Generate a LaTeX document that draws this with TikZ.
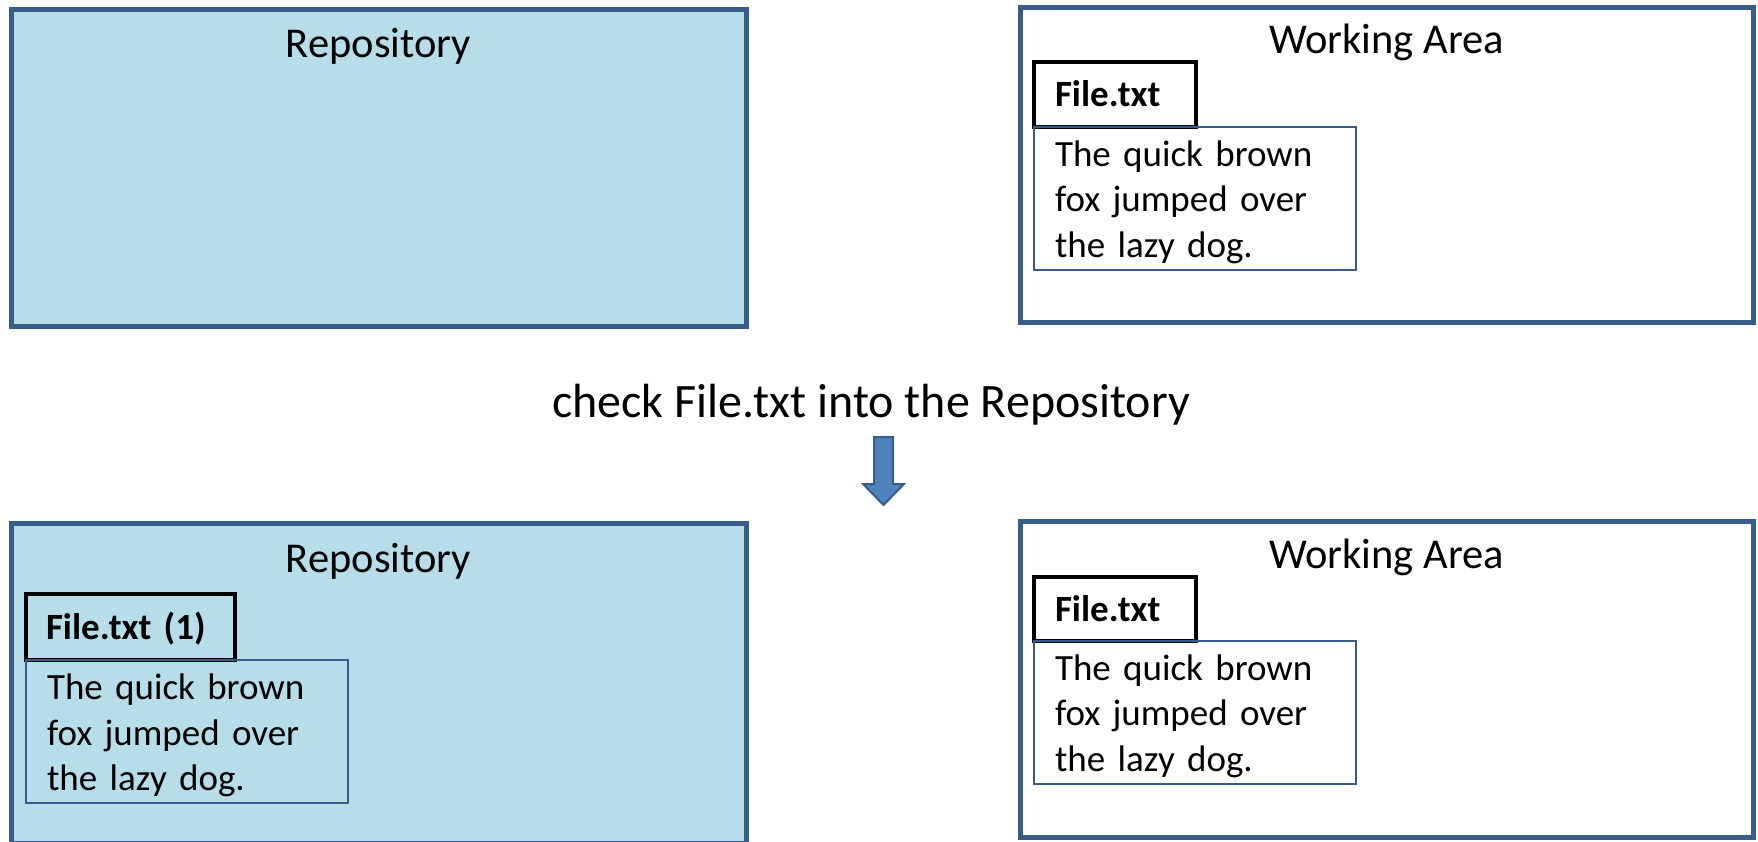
\documentclass[tikz,border=0pt]{standalone}
\usepackage{fontspec}
\setmainfont{Carlito}
\definecolor{repofill}{HTML}{B7DEE8}
\definecolor{areaborder}{HTML}{385D8A}
\definecolor{arrowfill}{HTML}{4F81BD}
\DeclareRobustCommand\myfilefont{\bfseries\fontsize{37}{44}\selectfont\spaceskip=0.17em\relax}
\DeclareRobustCommand\mybodyfont{\fontsize{37}{45.5}\selectfont\spaceskip=0.19em\relax}
\begin{document}
\begin{tikzpicture}[x=1pt,y=-1pt,
  every node/.style={inner sep=0pt,outer sep=0pt},
  area/.style={draw=areaborder,line width=5pt,rectangle,anchor=north west},
  repo/.style={area,fill=repofill},
  work/.style={area,fill=white},
  title/.style={anchor=base,font=\fontsize{42.5}{50}\selectfont},
  fname/.style={draw=black,line width=4pt,anchor=north west,align=left,
    font=\myfilefont,text height=24pt,text depth=0pt},
  contentbox/.style={draw=areaborder,line width=1.5pt,anchor=north west,
    minimum width=322pt,minimum height=143pt},
  contenttext/.style={anchor=base west,align=left,text width=290pt,
    font=\mybodyfont},
  caption/.style={anchor=base,font=\fontsize{48}{58}\selectfont}]
\useasboundingbox (0,0) rectangle (1758,841);
% top row
\node[repo,minimum width=735pt,minimum height=317pt] (repoA) at (11,9) {};
\node[title] (repoAt) at (378.5,57) {Repository};
\node[work,minimum width=733pt,minimum height=315pt] (workA) at (1020,7) {};
\node[title] (workAt) at (1386.5,53.5) {Working Area};
\node[fname,minimum width=162pt,minimum height=65pt,inner xsep=21pt,text width=120pt] (fileA) at (1034,62) {File.txt};
\node[contentbox] (textA) at (1034,127) {};
\node[contenttext] (parA) at ([shift={(21,39)}]textA.north west) {The quick brown\\fox jumped over\\the lazy dog.};
% caption and arrow
\node[caption] (cap) at (871,417) {check File.txt into the Repository};
\draw[draw=areaborder,fill=arrowfill,line width=2pt,line join=miter]
  (874,437) -- (893,437) -- (893,484) -- (904,484) -- (883.5,505) -- (863,484) -- (874,484) -- cycle;
% bottom row
\node[repo,minimum width=735pt,minimum height=320pt] (repoB) at (11,523) {};
\node[title] (repoBt) at (378.5,572) {Repository};
\node[work,minimum width=733pt,minimum height=316pt] (workB) at (1020,521) {};
\node[title] (workBt) at (1386.5,568) {Working Area};
\node[fname,minimum width=209pt,minimum height=66pt,inner xsep=20pt,text width=169pt] (fileB) at (26,594) {File.txt (1)};
\node[contentbox] (textB) at (26,660) {};
\node[contenttext] (parB) at ([shift={(21,39.5)}]textB.north west) {The quick brown\\fox jumped over\\the lazy dog.};
\node[fname,minimum width=162pt,minimum height=64pt,inner xsep=21pt,text width=120pt] (fileC) at (1034,577) {File.txt};
\node[contentbox] (textC) at (1034,641) {};
\node[contenttext] (parC) at ([shift={(21,39)}]textC.north west) {The quick brown\\fox jumped over\\the lazy dog.};
\end{tikzpicture}
\end{document}
